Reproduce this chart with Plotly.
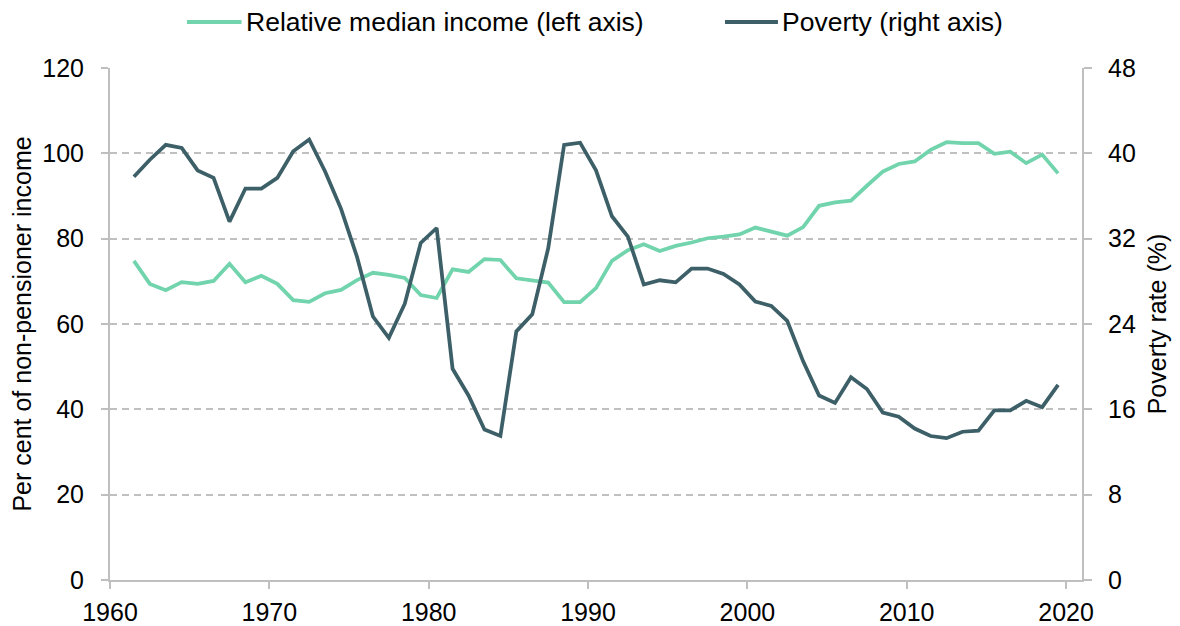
import plotly.graph_objects as go

years = list(range(1961, 2020))

relative_median_income = [
    74.8, 69.4, 67.9, 69.8, 69.4, 70.1, 74.1, 69.8, 71.3, 69.4,
    65.6, 65.2, 67.2, 68.0, 70.3, 72.0, 71.5, 70.8, 66.8, 66.1,
    72.8, 72.2, 75.2, 75.0, 70.7, 70.3, 69.7, 65.1, 65.1, 68.4,
    74.8, 77.3, 78.7, 77.1, 78.3, 79.1, 80.1, 80.5, 81.0, 82.6,
    81.6, 80.7, 82.7, 87.7, 88.5, 88.9, 92.4, 95.7, 97.5, 98.1,
    100.8, 102.6, 102.4, 102.4, 99.9, 100.4, 97.7, 99.7, 95.3,
]

poverty_rate = [
    37.8, 39.4, 40.8, 40.5, 38.4, 37.7, 33.6, 36.7, 36.7, 37.7,
    40.2, 41.3, 38.3, 34.8, 30.3, 24.7, 22.7, 25.9, 31.6, 33.0,
    19.8, 17.3, 14.1, 13.5, 23.3, 24.9, 31.1, 40.8, 41.0, 38.4,
    34.1, 32.2, 27.7, 28.1, 27.9, 29.2, 29.2, 28.7, 27.7, 26.1,
    25.7, 24.3, 20.5, 17.3, 16.6, 19.0, 17.9, 15.7, 15.3, 14.2,
    13.5, 13.3, 13.9, 14.0, 15.9, 15.9, 16.8, 16.2, 18.3,
]

series_names = ["Relative median income (left axis)", "Poverty (right axis)"]
left_ticks = [0, 20, 40, 60, 80, 100, 120]
right_ticks = [0, 8, 16, 24, 32, 40, 48]
x_ticks = [1960, 1970, 1980, 1990, 2000, 2010, 2020]

# financial years plotted at mid-year
x_vals = [y + 0.5 for y in years]

GREEN = "#71D4AD"
DARK = "#3D5F67"
AXIS = "#BFBFBF"
GRID = "#C0C0C0"
FONT = "Liberation Sans, Arial, sans-serif"
TICK_SIZE = 25
LEG_SIZE = 26.5

fig = go.Figure()
fig.add_trace(go.Scatter(
    x=x_vals, y=relative_median_income, mode="lines",
    name=series_names[0], showlegend=False,
    line=dict(color=GREEN, width=3.75), yaxis="y",
))
fig.add_trace(go.Scatter(
    x=x_vals, y=poverty_rate, mode="lines",
    name=series_names[1], showlegend=False,
    line=dict(color=DARK, width=3.75), yaxis="y2",
))

# legend drawn as line samples + labels above the plot area
legend_y = 1.0898
legend_items = [
    (series_names[0], GREEN, 0.0792, 0.1353, 0.1375),
    (series_names[1], DARK, 0.6327, 0.6872, 0.6895),
]
shapes = []
annotations = []
for name, color, x0, x1, xt in legend_items:
    shapes.append(dict(type="line", xref="paper", yref="paper",
                       x0=x0, x1=x1, y0=legend_y, y1=legend_y,
                       line=dict(color=color, width=4)))
    annotations.append(dict(text=name, xref="paper", yref="paper",
                            x=xt, y=legend_y, xanchor="left", yanchor="middle",
                            showarrow=False, font=dict(size=LEG_SIZE, color="#000000")))

fig.update_layout(
    width=1172, height=618,
    margin=dict(l=102, r=98, t=60, b=46, autoexpand=False),
    paper_bgcolor="white", plot_bgcolor="white",
    font=dict(family=FONT, size=TICK_SIZE, color="#000000"),
    showlegend=False,
    shapes=shapes,
    annotations=annotations,
    xaxis=dict(
        range=[1960, 2021], tickvals=x_ticks, ticktext=[str(t) for t in x_ticks],
        showgrid=False, zeroline=False,
        showline=True, linecolor=AXIS, linewidth=2,
        ticks="outside", ticklen=7, tickwidth=2, tickcolor=AXIS,
        tickfont=dict(size=TICK_SIZE), automargin=False, ticklabelstandoff=2,
    ),
    yaxis=dict(
        range=[0, 120], tickvals=left_ticks,
        showgrid=True, gridcolor=GRID, griddash="7px,5px", gridwidth=1.5,
        zeroline=False,
        showline=True, linecolor=AXIS, linewidth=2,
        ticks="outside", ticklen=7, tickwidth=2, tickcolor=AXIS,
        tickfont=dict(size=TICK_SIZE), automargin=False, ticklabelstandoff=12,
        title=dict(text="Per cent of non-pensioner income", font=dict(size=TICK_SIZE), standoff=8),
    ),
    yaxis2=dict(
        range=[0, 48], tickvals=right_ticks, overlaying="y", side="right",
        showgrid=False, zeroline=False,
        showline=True, linecolor=AXIS, linewidth=2,
        ticks="outside", ticklen=8, tickwidth=2, tickcolor=AXIS,
        tickfont=dict(size=TICK_SIZE), automargin=False, ticklabelstandoff=11,
        title=dict(text="Poverty rate (%)", font=dict(size=TICK_SIZE), standoff=14),
    ),
)

fig.write_html("out.html")
